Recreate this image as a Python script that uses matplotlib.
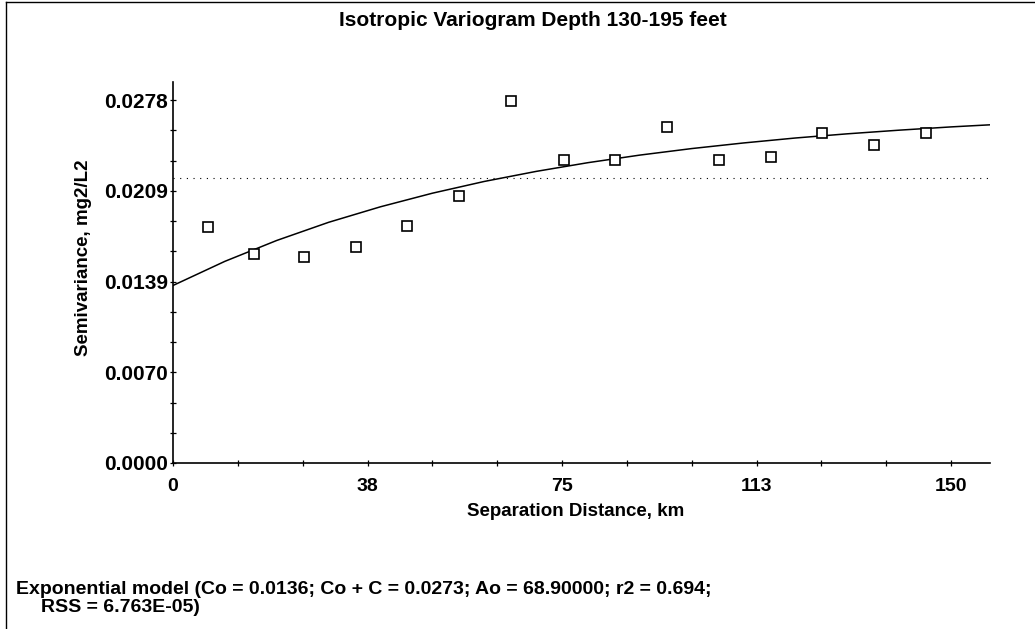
import matplotlib
matplotlib.use("Agg")
import matplotlib.pyplot as plt
from matplotlib.lines import Line2D
from matplotlib.ticker import MultipleLocator

# ---- data ----
lag_distance = [6.7, 15.6, 25.2, 35.3, 45.2, 55.1, 65.2, 75.3, 85.2, 95.2,
                105.3, 115.2, 125.2, 135.2, 145.1]
semivariance = [0.01805, 0.01598, 0.01578, 0.01654, 0.01817, 0.02047, 0.02775,
                0.02318, 0.02323, 0.02575, 0.02320, 0.02343, 0.02530, 0.02435,
                0.02527]

# model curve (exponential model)
model_distance = [0, 10, 20, 30, 40, 50, 60, 70, 80, 90, 100, 110, 120, 130,
                  140, 150, 157.5]
model_value = [0.01360, 0.01545, 0.01705, 0.01844, 0.01963, 0.02067, 0.02157,
               0.02234, 0.02301, 0.02359, 0.02409, 0.02452, 0.02490, 0.02522,
               0.02550, 0.02575, 0.02591]

sample_variance = 0.02185

x_ticks = [0, 37.5, 75, 112.5, 150]
x_tick_labels = ["0", "38", "75", "113", "150"]
y_ticks = [0.0, 0.00695, 0.0139, 0.02085, 0.0278]
y_tick_labels = ["0.0000", "0.0070", "0.0139", "0.0209", "0.0278"]

title = "Isotropic Variogram Depth 130-195 feet"
x_label = "Separation Distance, km"
y_label = "Semivariance, mg2/L2"
footer1 = "Exponential model (Co = 0.0136; Co + C = 0.0273; Ao = 68.90000; r2 = 0.694;"
footer2 = "RSS = 6.763E-05)"

# ---- figure ----
plt.rcParams['font.family'] = ['Liberation Sans', 'DejaVu Sans']
plt.rcParams['font.weight'] = 'bold'

W, H = 1035, 629
fig = plt.figure(figsize=(W / 100, H / 100), dpi=100)
fig.patch.set_facecolor('white')

left, right, top, bottom = 173, 990, 82, 463
ax = fig.add_axes([left / W, 1 - bottom / H, (right - left) / W, (bottom - top) / H])

ax.plot(model_distance, model_value, color='black', lw=1.1, zorder=2)
ax.axhline(sample_variance, color='black', lw=0.8, linestyle=(0, (1, 5)), zorder=1)
ax.plot(lag_distance, semivariance, linestyle='none', marker='s', markersize=7,
        markerfacecolor='white', markeredgecolor='black', markeredgewidth=1.2, zorder=3)

ax.set_xlim(0, 157.5)
ax.set_ylim(0, 0.02919)
ax.set_xticks(x_ticks)
ax.set_xticklabels(x_tick_labels)
ax.set_yticks(y_ticks)
ax.set_yticklabels(y_tick_labels)
ax.xaxis.set_minor_locator(MultipleLocator(12.5))
ax.yaxis.set_minor_locator(MultipleLocator(0.0278 / 12))

for s in ['top', 'right']:
    ax.spines[s].set_visible(False)
for s in ['left', 'bottom']:
    ax.spines[s].set_linewidth(1.2)

ax.tick_params(which='both', direction='inout', length=4.3, width=0.9, color='black')
ax.tick_params(axis='x', which='major', pad=9, labelsize=14)
ax.tick_params(axis='y', which='major', pad=1.2, labelsize=15)
for lab in ax.get_xticklabels() + ax.get_yticklabels():
    lab.set_fontweight('bold')

fig.text(533 / W, 1 - 20 / H, title, ha='center', va='center', fontsize=15, fontweight='bold')
fig.text(576 / W, 1 - 512 / H, x_label, ha='center', va='center', fontsize=13.5, fontweight='bold')
fig.text(84 / W, 1 - 258 / H, y_label, ha='center', va='center', rotation=90,
         fontsize=13.5, fontweight='bold')
fig.text(16 / W, 1 - 590 / H, footer1, ha='left', va='center', fontsize=14, fontweight='bold')
fig.text(41 / W, 1 - 608 / H, footer2, ha='left', va='center', fontsize=14, fontweight='bold')

# frame lines (left and top edges of the original panel)
fig.add_artist(Line2D([6 / W, 6 / W], [0, 1 - 2 / H], transform=fig.transFigure,
                      color='black', lw=1.0))
fig.add_artist(Line2D([6 / W, 1], [1 - 2 / H, 1 - 2 / H], transform=fig.transFigure,
                      color='black', lw=1.0))

fig.savefig('out.png', dpi=100, facecolor='white')
